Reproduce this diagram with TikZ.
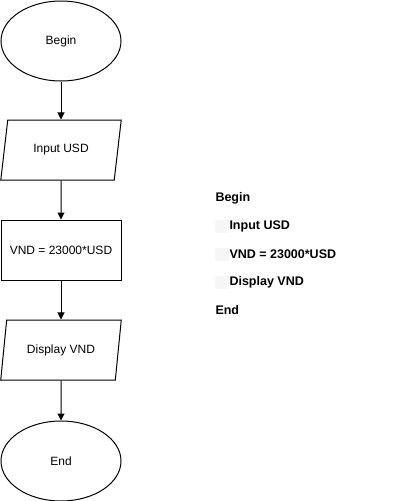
\documentclass[tikz,border=0pt]{standalone}
\usepackage{fontspec}
\setmainfont{Liberation Sans}
\usetikzlibrary{shapes.geometric,arrows.meta}
\definecolor{tabgray}{HTML}{F6F6F6}
\begin{document}
\begin{tikzpicture}[x=1pt,y=-1pt,line width=1pt,
  every node/.style={font=\fontsize{12}{14}\selectfont},
  term/.style={draw,ellipse,minimum width=120pt,minimum height=80pt,inner sep=0pt},
  io/.style={draw,trapezium,trapezium left angle=71.57,trapezium right angle=108.43,minimum width=121pt,minimum height=60pt,inner sep=0pt,trapezium stretches=true},
  proc/.style={draw,rectangle,minimum width=120pt,minimum height=60pt,inner sep=0pt},
  conn/.style={-{Triangle[length=7pt,width=7pt]},line width=1pt},
  lst/.style={anchor=west,inner sep=0pt,font=\fontsize{12.5}{14}\selectfont\bfseries},
  tabbox/.style={fill=tabgray,draw=none}]
\useasboundingbox (0,0) rectangle (401,501);
\node[term] (begin) at (61,41) {Begin};
\node[io] (input) at (61,150) {Input USD};
\node[proc] (calc) at (61,250) {VND = 23000*USD};
\node[io] (disp) at (61,350) {Display VND};
\node[term] (end) at (61,461) {End};
\draw[conn] (begin) -- (input);
\draw[conn] (input) -- (calc);
\draw[conn] (calc) -- (disp);
\draw[conn] (disp) -- (end);
\fill[tabbox] (215,220) rectangle (229,233);
\fill[tabbox] (215,248) rectangle (229,261);
\fill[tabbox] (215,276) rectangle (229,289);
\node[lst] (l1) at (215,198) {Begin};
\node[lst] (l2) at (229,226) {Input USD};
\node[lst] (l3) at (229,254) {VND = 23000*USD};
\node[lst] (l4) at (229,282) {Display VND};
\node[lst] (l5) at (215,310) {End};
\end{tikzpicture}
\end{document}
